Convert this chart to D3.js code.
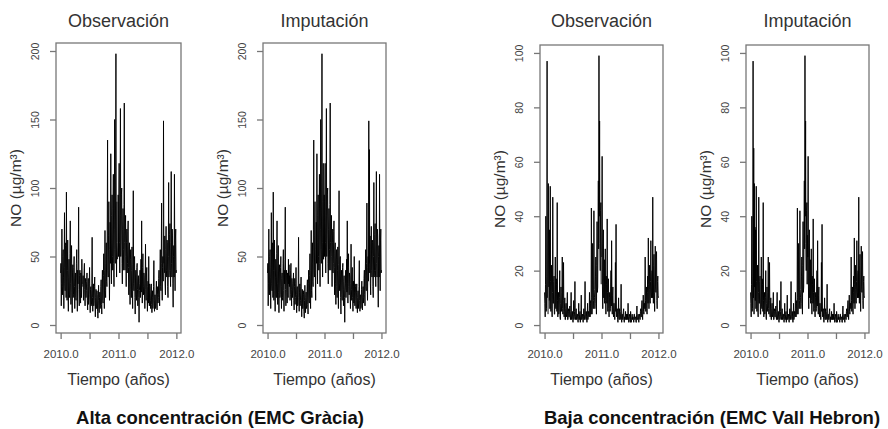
<!DOCTYPE html>
<html>
<head>
<meta charset="utf-8">
<script src="https://cdn.jsdelivr.net/npm/d3@7"></script>
<style>
  body { margin: 0; background: #fff; }
  svg { display: block; }
  text { font-family: 'Liberation Sans', Arial, sans-serif; }
</style>
</head>
<body>
<svg id="chart" width="888" height="429"></svg>
<script>
// ts-like series: value i sits at tsStart + i / tsFreq (one value every 2 days)
const tsStart = 2010;
const tsFreq = 180;

// NO values, EMC Gràcia (null = missing in observation)
const graciaObs = [
  38, 45, 14, 30, 70, 28, 22, 50, 55, 35, 12, 42, 82, 30, 25, 58, 60, 20, 97, 40,
  18, 40, 62, 25, 10, 35, 48, 22, 20, 52, 76, 30, 15, 45, 58, 24, 9, 38, 44, 20,
  22, 42, 50, 28, 12, 34, 38, 20, 18, 45, 55, 25, 10, 40, 30, 48, 86, 26, 14, 36,
  40, 24, 16, 38, 32, 20, 48, 30, null, 28, 36, 18, 22, 40, 45, 26, 14, 34, 30, 20,
  25, 32, 38, 18, 11, 28, 34, 15, 20, 30, 42, 22, 9, 26, 28, 14, 15, 30, 64, 20,
  10, 24, 30, 14, 18, 28, 35, 16, 6, 20, 26, 12, 12, 25, 22, 10, 5, 18, 29, 14,
  9, 20, 24, 12, 14, 28, 33, 15, 8, 30, 40, 18, 16, 36, 52, 22, 12, 40, 69, 25,
  20, 45, 60, 32, 28, 70, 135, 40, 35, 65, 90, 38, 18, 55, 75, 45, 125, 60, 30, 80,
  95, 50, 40, 85, 110, 45, 28, 70, 150, 55, 45, 100, 198, 60, 35, 90, null, 48, 60, 95,
  50, 90, 118, 60, 38, 80, 158, 50, 65, 95, 100, 45, 30, 70, 85, 40, 55, 88, 162, 60,
  40, 65, 80, 50, 28, 60, 70, 38, 45, 68, 76, 42, 22, 55, 60, 30, 15, 48, 55, 28,
  20, 40, 57, 25, 12, 44, 98, 30, 25, 48, 50, 20, 8, 35, 40, 22, 18, 42, 45, 26,
  14, 32, 36, 20, 2, 25, 30, 40, 20, 35, 48, 24, 76, 30, 16, 42, 52, 28, 22, 38,
  35, 22, 12, 30, 59, 26, 18, 38, 42, 20, 10, 28, 32, 16, 50, 24, 14, 30, 28, 18,
  12, 24, 30, 15, 9, 20, 25, 12, 16, 28, 47, 18, 10, 22, 22, 12, 13, 26, 32, 16,
  11, 22, 28, 16, 20, 34, 40, 22, 14, 38, 55, 28, 25, 45, 89, 30, 18, 42, 50, 32,
  149, 45, null, 38, 65, 30, 22, 55, 72, 40, 35, 62, 60, 28, 20, 50, 104, 35, 40, 66,
  74, 40, 28, 60, 112, 45, 35, 70, 65, 30, 13, 50, 58, 35, 110, 48, 25, 62, 70, 38, 40
];
// [index, imputed value] for the gaps
const graciaFill = [[68, 44], [176, 118], [322, 128]];

// NO values, EMC Vall Hebron
const vallObs = [
  12, 8, 3, 15, 40, 5, 6, 18, 97, 10, null, 4, 52, 14, null, 9, 35, 6, 51, 16,
  5, 14, 22, 6, 3, 12, 47, 8, 8, 16, 18, 4, 4, 13, 25, 7, 6, 17, 15, 5,
  45, 9, 3, 11, 12, 4, 5, 10, 20, 3, 2, 8, 14, 5, 7, 12, 25, 6, 4, 9,
  23, 5, 3, 7, 10, 2, 2, 6, 8, 3, 4, 7, 12, 2, 2, 5, 6, 3, 3, 6,
  7, 3, 2, 5, 12, 2, 3, 4, 5, 2, 1, 4, 9, 2, 3, 5, 16, 3, 2, 4,
  6, 2, 2, 4, 4, 2, 1, 3, 8, 2, 2, 4, 5, 1, 3, 4, 11, 2, 2, 3,
  4, 2, 1, 3, 6, 2, 2, 4, 16, 3, 3, 2, 5, 3, 1, 4, 8, 2, 3, 5,
  5, 3, 12, 6, 3, 8, 9, 4, 43, 10, 4, 7, 30, 12, 6, 9, 42, 13, 10, 6,
  8, 18, 25, 10, 4, 22, 38, 12, 14, 35, 53, 28, 99, 40, 75, 30, 20, 42, 45, 15,
  null, 25, 62, 14, 6, 30, 35, 10, 18, 24, 8, 16, 28, 9, 4, 18, 15, 8, 39, 12,
  5, 12, 17, 6, 3, 10, 12, 5, 6, 14, 20, 7, 31, 9, 4, 11, 14, 5, 3, 8,
  8, 4, 2, 6, 23, 5, 37, 7, 3, 5, 6, 2, 1, 4, 10, 3, 2, 6, 5, 2,
  3, 5, 15, 2, 1, 4, 4, 2, 2, 5, 6, 2, 1, 3, 3, 2, 5, 3, 2, 4,
  2, 3, 4, 2, 8, 3, 1, 2, 3, 4, 2, 1, 5, 3, 1, 2, 3, 4, 2, 3,
  3, 2, 1, 4, 4, 2, 2, 3, 3, 1, 1, 4, 7, 2, 2, 3, 4, 2, 1, 3,
  4, 3, 2, 5, 6, 3, 3, 7, 9, 4, 2, 6, 11, 5, 4, 8, 8, 6, 25, 9,
  5, 11, 14, 6, 4, 12, 18, 8, 32, 15, 6, 13, 22, 9, 8, 16, 31, 12, 10, 18,
  20, 10, 47, 15, 8, 22, 26, 12, 5, 18, 29, 14, 12, 24, 27, 9, 6, 16, 18, 11, 10
];
const vallFill = [[10, 65], [14, 36], [180, 33]];

const panelTitles = ['Observación', 'Imputación'];
const groupTitles = ['Alta concentración (EMC Gràcia)', 'Baja concentración (EMC Vall Hebron)'];
const graciaTicks = [0, 50, 100, 150, 200];
const vallTicks = [0, 20, 40, 60, 80, 100];
const xTicks = [2010, 2010.5, 2011, 2011.5, 2012];
const xLabelled = [2010, 2011, 2012];
const yTitle = 'NO (µg/m³)';
const xTitle = 'Tiempo (años)';

function impute(obs, fill) {
  const out = obs.slice();
  fill.forEach(([i, v]) => { out[i] = v; });
  return out;
}

// R style range: data extent padded by 4% on each side
function padded(ext) {
  const p = (ext[1] - ext[0]) * 0.04;
  return [ext[0] - p, ext[1] + p];
}

const panels = [
  { values: graciaObs, ticks: graciaTicks, title: panelTitles[0], box: { l: 56, r: 181, t: 43, b: 333 } },
  { values: impute(graciaObs, graciaFill), ticks: graciaTicks, title: panelTitles[1], box: { l: 263, r: 386, t: 43, b: 333 } },
  { values: vallObs, ticks: vallTicks, title: panelTitles[0], box: { l: 540, r: 663, t: 45, b: 333 } },
  { values: impute(vallObs, vallFill), ticks: vallTicks, title: panelTitles[1], box: { l: 746, r: 869, t: 45, b: 333 } },
];

const svg = d3.select('#chart');
const axisGrey = '#777';
const labelGrey = '#444';

panels.forEach((p) => {
  const { l, r, t, b } = p.box;
  const pts = p.values.map((v, i) => [tsStart + i / tsFreq, v]);
  const x = d3.scaleLinear()
    .domain(padded([tsStart, tsStart + (p.values.length - 1) / tsFreq]))
    .range([l, r]);
  const y = d3.scaleLinear()
    .domain(padded(d3.extent(p.values.filter((v) => v != null))))
    .range([b, t]);

  const g = svg.append('g');

  g.append('path')
    .datum(pts)
    .attr('fill', 'none')
    .attr('stroke', '#000')
    .attr('stroke-width', 0.95)
    .attr('d', d3.line()
      .defined((d) => d[1] != null)
      .x((d) => x(d[0]))
      .y((d) => y(d[1])));

  g.append('rect')
    .attr('x', l).attr('y', t)
    .attr('width', r - l).attr('height', b - t)
    .attr('fill', 'none')
    .attr('stroke', axisGrey)
    .attr('stroke-width', 1.3);

  // x axis
  const xa = g.append('g')
    .attr('transform', `translate(0,${b})`)
    .call(d3.axisBottom(x)
      .tickValues(xTicks)
      .tickSize(6)
      .tickPadding(11)
      .tickFormat((d) => (xLabelled.includes(d) ? d3.format('.1f')(d) : '')));
  xa.select('.domain').remove();
  xa.selectAll('.tick line').attr('stroke', axisGrey).attr('stroke-width', 1.3);
  xa.selectAll('.tick text')
    .attr('fill', labelGrey)
    .style('font-size', '11.5px')
    .style('font-family', "'Liberation Sans', Arial, sans-serif");

  // y axis, labels parallel to the axis like R
  const ya = g.append('g')
    .attr('transform', `translate(${l},0)`)
    .call(d3.axisLeft(y).tickValues(p.ticks).tickSize(6));
  ya.select('.domain').remove();
  ya.selectAll('.tick line').attr('stroke', axisGrey).attr('stroke-width', 1.3);
  ya.selectAll('.tick text')
    .attr('x', null).attr('dy', '0.35em')
    .attr('text-anchor', 'middle')
    .attr('transform', 'translate(-21,0) rotate(-90)')
    .attr('fill', labelGrey)
    .style('font-size', '10.5px')
    .style('font-family', "'Liberation Sans', Arial, sans-serif");

  g.append('text')
    .attr('x', (l + r) / 2).attr('y', 21)
    .attr('dy', '0.35em')
    .attr('text-anchor', 'middle')
    .attr('fill', '#333')
    .style('font-size', '18px')
    .text(p.title);

  g.append('text')
    .attr('x', (l + r) / 2).attr('y', 379)
    .attr('dy', '0.35em')
    .attr('text-anchor', 'middle')
    .attr('fill', '#333')
    .style('font-size', '16px')
    .text(xTitle);

  g.append('text')
    .attr('transform', `translate(${l - 40},${(t + b) / 2}) rotate(-90)`)
    .attr('dy', '0.35em')
    .attr('text-anchor', 'middle')
    .attr('fill', '#333')
    .style('font-size', '15.5px')
    .text(yTitle);
});

svg.selectAll('.group-title')
  .data(groupTitles)
  .enter()
  .append('text')
  .attr('class', 'group-title')
  .attr('x', (d, i) => [220, 712][i])
  .attr('y', 418)
  .attr('dy', '0.35em')
  .attr('text-anchor', 'middle')
  .attr('fill', '#111')
  .style('font-size', '18.5px')
  .style('font-weight', 'bold')
  .text((d) => d);
</script>
</body>
</html>
